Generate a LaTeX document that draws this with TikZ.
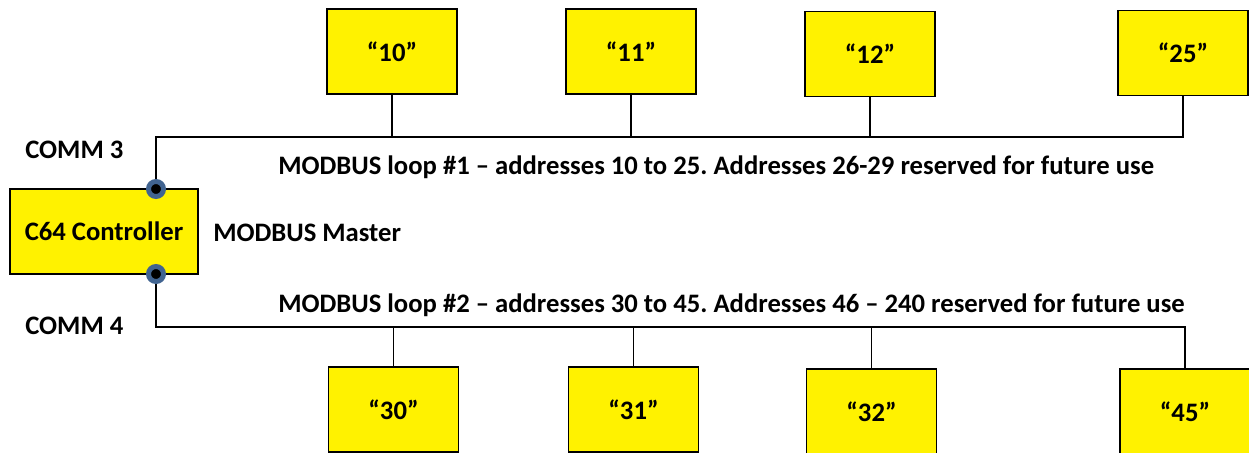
\documentclass[tikz,border=0pt]{standalone}
\usepackage{fontspec}
\setmainfont{Carlito}
\definecolor{portblue}{RGB}{65,100,145}
\tikzset{
  unitbox/.style={draw, fill=yellow, line width=1.2pt, minimum width=97.5pt, minimum height=63.75pt, inner sep=0pt},
  port/.style={circle, fill=black, draw=portblue, line width=3.75pt, minimum size=11.25pt, inner sep=0pt},
  wire/.style={line width=1pt},
  lbl/.style={inner sep=0pt, font=\fontsize{20}{24}\selectfont\bfseries}
}
\frenchspacing
\begin{document}
\begin{tikzpicture}[x=0.75pt,y=0.75pt,yscale=-1,xscale=1]
	\useasboundingbox (0,0) rectangle (1249,453);
	\clip (0,0) rectangle (1249,453);
	% controller
	\node [unitbox, lbl, minimum width=141pt] (ctrl) at (104,231.5) {C64 Controller};
	% loop 1 units
	\node [unitbox, lbl] (u10) at (392,51.5) {“10”};
	\node [unitbox, lbl] (u11) at (631,51.5) {“11”};
	\node [unitbox, lbl] (u12) at (870,54) {“12”};
	\node [unitbox, lbl] (u25) at (1183,53) {“25”};
	% loop 2 units
	\node [unitbox, lbl] (u30) at (393.5,409.5) {“30”};
	\node [unitbox, lbl] (u31) at (633.5,409.5) {“31”};
	\node [unitbox, lbl] (u32) at (871.5,411.5) {“32”};
	\node [unitbox, lbl] (u45) at (1185,411.5) {“45”};
	% bus levels
	\coordinate (busA) at (0,137);
	\coordinate (busB) at (0,327);
	\coordinate (p3c) at (156,189);
	\coordinate (p4c) at (156,274);
	% wiring
	\draw [wire] (p3c) -- (p3c |- busA) -| (u25.south);
	\draw [wire] (p4c) -- (p4c |- busB) -| (u45.north);
	\foreach \u in {u10,u11,u12} {
		\draw [wire] (\u.south) -- (\u.south |- busA);
	}
	\foreach \u in {u30,u31,u32} {
		\draw [wire] (\u.north) -- (\u.north |- busB);
	}
	% ports
	\node [port] (p3) at (p3c) {};
	\node [port] (p4) at (p4c) {};
	% texts
	\node [lbl, anchor=west] (comm3) at (25,150) {COMM 3};
	\node [lbl, anchor=west] (comm4) at (25,326) {COMM 4};
	\node [lbl, anchor=west] (master) at (213,233) {MODBUS Master};
	\node [lbl, anchor=west] (loopA) at (278,167) {MODBUS loop \#1 – addresses 10 to 25. Addresses 26-29 reserved for future use};
	\node [lbl, anchor=west] (loopB) at (278,305) {MODBUS loop \#2 – addresses 30 to 45. Addresses 46 – 240 reserved for future use};
\end{tikzpicture}
\end{document}
